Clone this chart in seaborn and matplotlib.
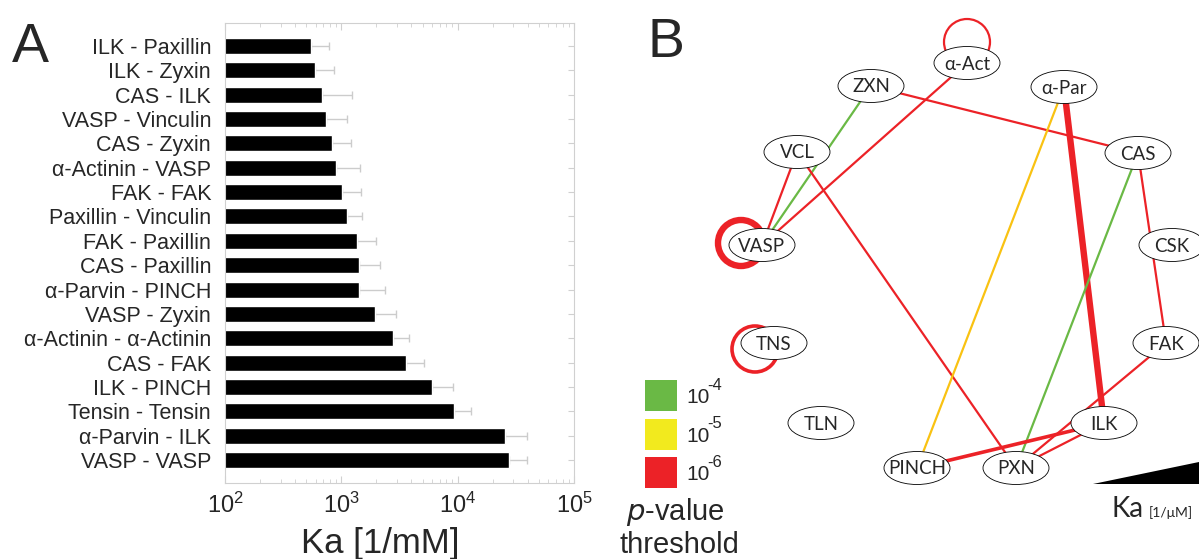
import numpy as np
import pandas as pd
import seaborn as sns
import matplotlib
matplotlib.use("Agg")
import matplotlib.pyplot as plt
from matplotlib.patches import Ellipse, Circle, Polygon, Rectangle

# ---- panel A data: association constants (1/mM), mean and upper error
pairs = ["ILK - Paxillin", "ILK - Zyxin", "CAS - ILK", "VASP - Vinculin", "CAS - Zyxin",
         "α-Actinin - VASP", "FAK - FAK", "Paxillin - Vinculin", "FAK - Paxillin",
         "CAS - Paxillin", "α-Parvin - PINCH", "VASP - Zyxin", "α-Actinin - α-Actinin",
         "CAS - FAK", "ILK - PINCH", "Tensin - Tensin", "α-Parvin - ILK", "VASP - VASP"]
ka = [546, 597, 685, 739, 835, 908, 1018, 1115, 1358, 1412, 1412, 1943, 2800,
      3622, 6040, 9376, 25590, 27860]
ka_upper = [786, 861, 1230, 1124, 1213, 1455, 1476, 1500, 1987, 2143, 2387, 2951, 3852,
            5143, 9033, 13120, 39810, 39170]

# ---- panel B data: network (edge -> pair name from panel A, p-value class)
nodes = ["α-Act", "ZXN", "α-Par", "VCL", "CAS", "VASP", "CSK", "TNS", "FAK",
         "TLN", "ILK", "PINCH", "PXN"]
edges = [("VASP - Zyxin", "ZXN", "VASP", "1e-4"),
         ("VASP - Vinculin", "VCL", "VASP", "1e-6"),
         ("α-Actinin - VASP", "α-Act", "VASP", "1e-6"),
         ("CAS - Zyxin", "ZXN", "CAS", "1e-6"),
         ("Paxillin - Vinculin", "VCL", "PXN", "1e-6"),
         ("α-Parvin - PINCH", "α-Par", "PINCH", "1e-5"),
         ("α-Parvin - ILK", "α-Par", "ILK", "1e-6"),
         ("CAS - Paxillin", "CAS", "PXN", "1e-4"),
         ("CAS - FAK", "CAS", "FAK", "1e-6"),
         ("FAK - Paxillin", "FAK", "PXN", "1e-6"),
         ("ILK - Paxillin", "ILK", "PXN", "1e-6"),
         ("ILK - PINCH", "PINCH", "ILK", "1e-6")]
self_loops = [("α-Actinin - α-Actinin", "α-Act", "1e-6"),
              ("VASP - VASP", "VASP", "1e-6"),
              ("Tensin - Tensin", "TNS", "1e-6")]
legend_exp = ["-4", "-5", "-6"]

edge_colors = {"1e-4": "#6ab945", "1e-5": "#f9c212", "1e-6": "#ec2227"}
legend_colors = ["#6ab945", "#f2ea1e", "#ec2227"]

# layout of the network in pixel coordinates
pos = {"α-Act": (967, 63), "ZXN": (871, 86), "α-Par": (1064, 87), "VCL": (797, 152),
       "CAS": (1138, 153), "VASP": (762, 245), "CSK": (1172, 245), "TNS": (774, 343),
       "FAK": (1166, 343), "TLN": (821, 423), "ILK": (1104, 423), "PINCH": (917, 468),
       "PXN": (1016, 468)}
loop_pos = {"α-Act": (967, 42, 23), "VASP": (741, 243, 23), "TNS": (755, 349, 23)}
ka_lookup = dict(zip(pairs, ka))


def width_for(k):
    # thickness classes by Ka
    if k > 20000:
        return 4.6
    if k > 5000:
        return 2.6
    return 1.6


sns.set_style("white")
plt.rcParams["font.family"] = ["Liberation Sans", "DejaVu Sans"]

fig = plt.figure(figsize=(11.99, 5.59), dpi=100)
ax = fig.add_axes([225 / 1199, 76 / 559, 349 / 1199, 460 / 559])
ax.set_xscale("log")

df = pd.DataFrame({"pair": pairs, "ka": ka, "upper": ka_upper})
sns.barplot(data=df, x="ka", y="pair", orient="h", color="black", width=0.66,
            ax=ax, saturation=1, errorbar=None)
# bars start at the left edge of the log axis
for p, v in zip(ax.patches, df["ka"]):
    p.set_x(1)
    p.set_width(v - 1)
    p.set_zorder(2)
ax.errorbar(df["ka"], np.arange(len(df)), xerr=[np.zeros(len(df)), df["upper"] - df["ka"]],
            fmt="none", ecolor="#cccccc", elinewidth=1, capsize=3, capthick=1, zorder=1)
ax.set_xlim(100, 100000)
ax.set_ylim(len(df) - 1 + 0.94, -0.94)
ax.set_xlabel("")
ax.set_ylabel("")
for s in ax.spines.values():
    s.set_color("#d0d0d0")
    s.set_linewidth(0.8)
ax.tick_params(axis="y", left=False, right=True, direction="in", length=4,
               color="#d0d0d0", labelsize=15.5, pad=10)
ax.tick_params(axis="x", which="both", top=True, bottom=True, direction="in",
               color="#d0d0d0", labelsize=17, pad=7)
ax.tick_params(axis="x", which="major", length=5)
ax.tick_params(axis="x", which="minor", length=3)
fig.text(380 / 1199, 1 - 543 / 559, "Ka [1/mM]", fontsize=25, ha="center", va="center")

# ---- panel B drawn on a full-figure canvas in pixel units
net = fig.add_axes([0, 0, 1, 1], zorder=-1)
net.set_xlim(0, 1199)
net.set_ylim(559, 0)
net.axis("off")

for name, a, b, p in edges:
    (x1, y1), (x2, y2) = pos[a], pos[b]
    net.plot([x1, x2], [y1, y2], color=edge_colors[p], lw=width_for(ka_lookup[name]),
             solid_capstyle="butt", zorder=2)
for name, n, p in self_loops:
    cx, cy, r = loop_pos[n]
    net.add_patch(Circle((cx, cy), r, fill=False, ec=edge_colors[p],
                         lw=width_for(ka_lookup[name]), zorder=2))
for n in nodes:
    x, y = pos[n]
    net.add_patch(Ellipse((x, y), 66, 33, fc="white", ec="black", lw=0.6, zorder=3))
    net.text(x, y + 1, n, ha="center", va="center", fontsize=13.5,
             family=["Lato", "DejaVu Sans"], zorder=4)

# legend for p-value threshold
for i, (c, e) in enumerate(zip(legend_colors, legend_exp)):
    y0 = 380 + i * 38.5
    net.add_patch(Rectangle((645, y0), 32, 31, fc=c, ec="none"))
    net.text(686, y0 + 23, "10", fontsize=15, va="baseline", ha="left")
    net.text(707, y0 + 10, e, fontsize=12, va="baseline", ha="left")
net.text(675, 512, "$p$-value", fontsize=21, ha="center", va="center")
net.text(679, 545, "threshold", fontsize=21, ha="center", va="center")

# Ka wedge
net.add_patch(Polygon([(1093, 484), (1199, 462), (1199, 484)], closed=True, fc="black", ec="none"))
net.text(1111, 517, "Ka", fontsize=20, ha="left", va="baseline", family=["Lato", "DejaVu Sans"])
net.text(1149, 517, "[1/μM]", fontsize=10, ha="left", va="baseline", family=["Lato", "DejaVu Sans"])

fig.text(12 / 1199, 1 - 62 / 559, "A", fontsize=40)
fig.text(648 / 1199, 1 - 57 / 559, "B", fontsize=40)

fig.savefig("out.png", dpi=100)
